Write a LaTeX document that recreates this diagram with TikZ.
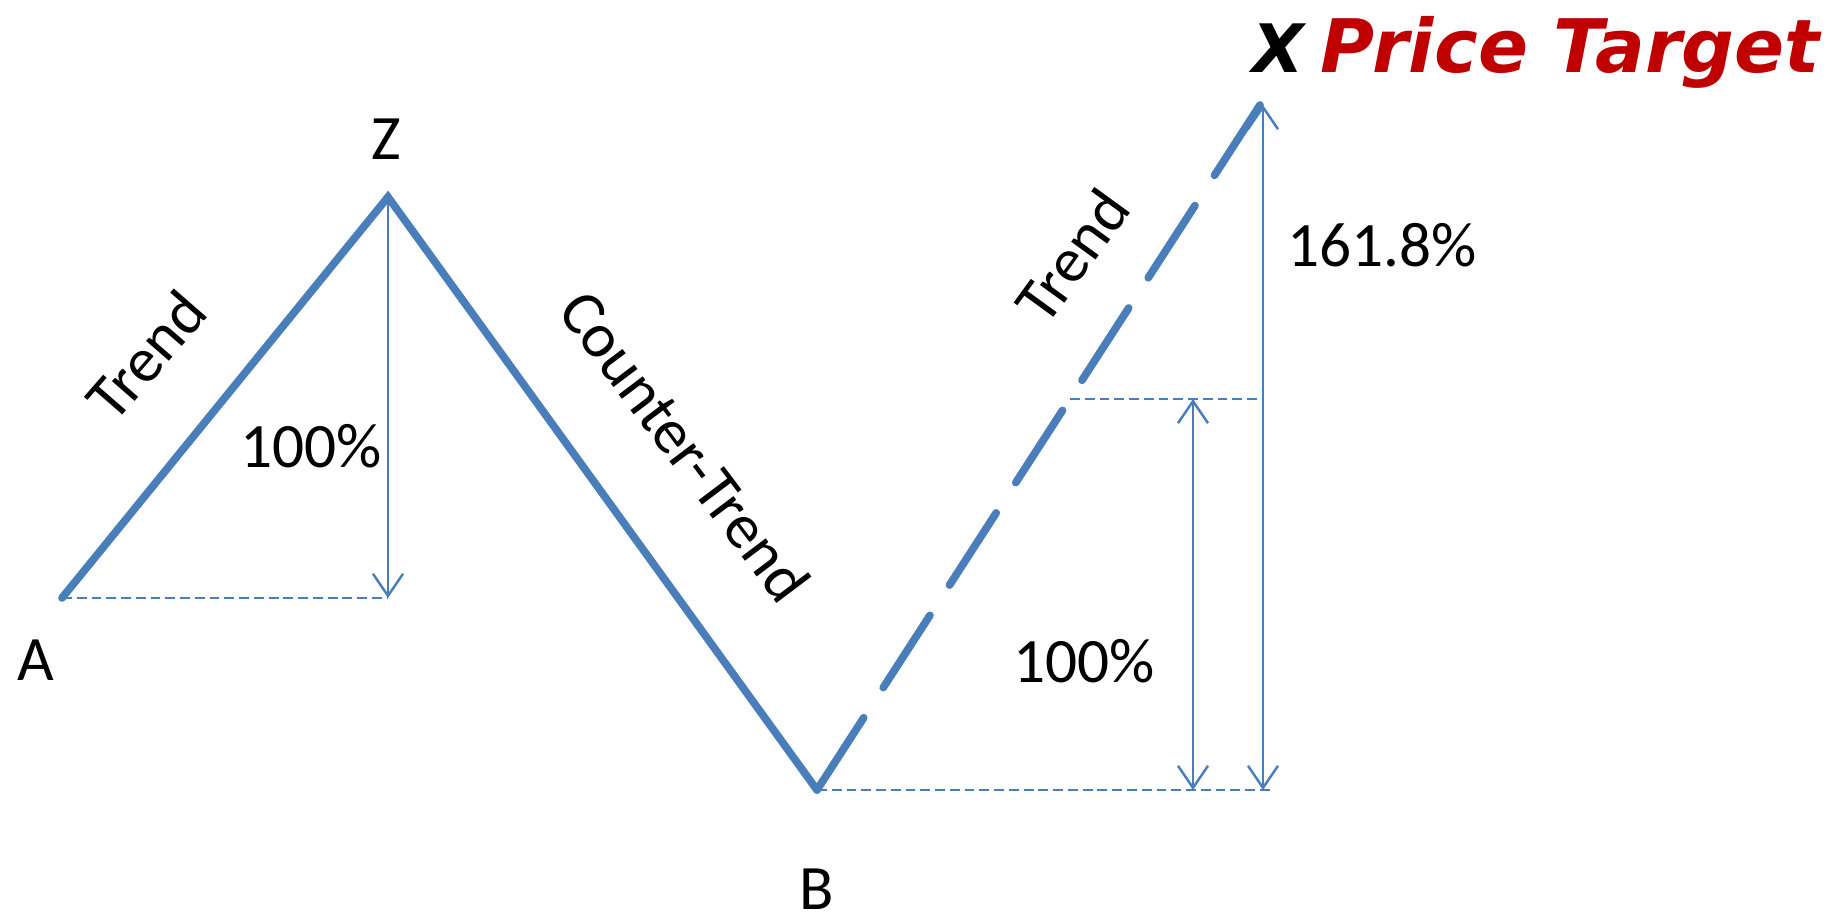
\documentclass[tikz,border=0pt]{standalone}
\usepackage{fontspec}
\setmainfont{Carlito}
\newfontfamily\targetfont{DejaVu Sans}
\usepackage{xcolor}
\definecolor{WaveBlue}{HTML}{4A7EBB}
\definecolor{TargetRed}{HTML}{C00000}
\usepackage{tikz}
\usetikzlibrary{arrows.meta,calc}

\begin{document}
\begin{tikzpicture}[
    wave/.style={draw=WaveBlue,line width=2.2pt,line cap=round},
    proj/.style={draw=WaveBlue,line width=0.55pt,dash pattern=on 2.8pt off 1.4pt},
    meas/.style={draw=WaveBlue,line width=0.7pt},
    arr/.style={-{Straight Barb[length=2.2mm,width=3mm]}},
    dblarr/.style={{Straight Barb[length=2.2mm,width=3mm]}-{Straight Barb[length=2.2mm,width=3mm]}},
    lbl/.style={inner sep=0pt,font=\fontsize{18}{21}\selectfont},
    target/.style={inner sep=0pt,font=\targetfont\bfseries\itshape\fontsize{21}{25}\selectfont}
  ]
    \useasboundingbox (0,0) rectangle (18.35,9.18);

    % turning points of the swing
    \coordinate (A) at (0.62,3.20);
    \coordinate (Z) at (3.88,7.21);
    \coordinate (B) at (8.17,1.28);
    \coordinate (X) at (12.60,8.13);
    \coordinate (Zfoot) at (Z |- A);
    \coordinate (Xtop) at (12.63,8.13);
    \coordinate (Xfoot) at (Xtop |- B);
    \coordinate (Xmid) at (12.63,5.19);
    \coordinate (Mtop) at (11.93,5.19);
    \coordinate (Mfoot) at (Mtop |- B);
    \coordinate (Mleft) at (10.70,5.19);
    \coordinate (Bend) at (12.70,1.28);

    \draw[wave] (A) -- (Z) -- (B);
    \draw[wave,dash pattern=on 0.86cm off 0.36cm] (B) -- (X);

    \draw[proj] (A) -- (Zfoot);
    \draw[proj] (B) -- (Bend);
    \draw[proj] (Mleft) -- (Xmid);

    \draw[meas,arr] (Z) -- (Zfoot);
    \draw[meas,dblarr] (Mtop) -- (Mfoot);
    \draw[meas,dblarr] (Xfoot) -- (Xtop);

    \node[lbl] (labA) at (0.36,2.58) {A};
    \node[lbl] (labZ) at (3.86,7.79) {Z};
    \node[lbl] (labB) at (8.17,0.29) {B};
    \node[target,font=\targetfont\bfseries\itshape\fontsize{19}{23}\selectfont,anchor=base] (labX) at (12.78,8.45) {X};
    \node[target,text=TargetRed,anchor=base west] (goal) at (13.20,8.45) {Price Target};

    \node[lbl,rotate=49] (trendAZ) at (1.46,5.63) {Trend};
    \node[lbl,rotate=-53] (counter) at (6.85,4.72) {Counter-Trend};
    \node[lbl,rotate=54] (trendBX) at (10.72,6.62) {Trend};

    \node[lbl,anchor=base] (pctAZ) at (3.11,4.50) {100\%};
    \node[lbl,anchor=base] (pctBM) at (10.84,2.35) {100\%};
    \node[lbl,anchor=base] (pctBX) at (13.82,6.51) {161.8\%};
  \end{tikzpicture}
\end{document}
